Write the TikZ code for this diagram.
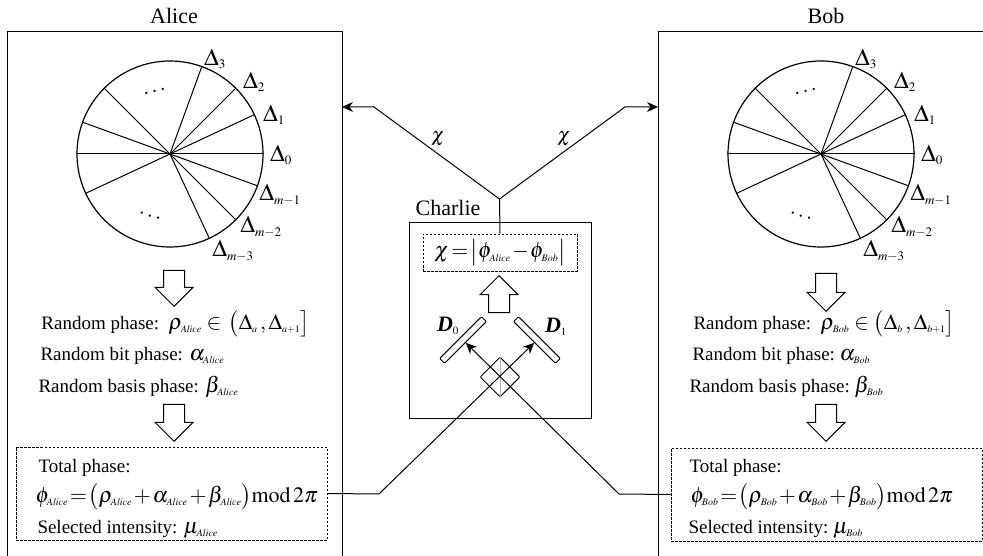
\documentclass[tikz,border=0pt]{standalone}
\usepackage{amsmath}
\usepackage{mathptmx}
\usepackage[no-math]{fontspec}
\setmainfont{Liberation Serif}
\usepackage{tikz}
\usetikzlibrary{arrows.meta, shapes.arrows, shapes.geometric}
\DeclareMathSizes{17}{20}{10}{8}
\DeclareMathSizes{19}{22}{10}{8}
\DeclareMathSizes{24}{24}{13}{10}
\DeclareMathSizes{22}{22}{11}{9}
\newcommand{\sub}[1]{_{\mathit{#1}}}

\begin{document}
\begin{tikzpicture}[
      x=1pt, y=-1pt,
      line width=1pt,
      myarrow/.style={-{Stealth[length=11pt,width=10pt]}},
      mytitle/.style={font=\fontsize{22}{24}\selectfont, inner sep=0pt},
      mytext/.style={font=\fontsize{19}{22}\selectfont, anchor=base west, inner sep=0pt},
      mydelta/.style={font=\fontsize{24}{26}\selectfont, inner sep=0pt},
      mychi/.style={font=\fontsize{17}{20}\selectfont, inner sep=0pt},
      mydots/.style={font=\fontsize{19}{22}\selectfont, inner sep=0pt},
      mywheel/.style={circle, draw=black, line width=1.2pt, inner sep=0pt, minimum size=186pt},
      mydash/.style={draw=black, line width=0.7pt, dash pattern=on 2.5pt off 1.5pt, inner sep=0pt},
      myblock/.style={single arrow, draw=black, inner xsep=0pt, inner ysep=10pt, anchor=tip,
         single arrow head extend=8.5pt, single arrow head indent=0pt},
      mydetector/.style={rectangle, draw=black, rounded corners=1pt, inner sep=0pt,
         minimum width=59pt, minimum height=7pt}
      ]
      \useasboundingbox (0,0) rectangle (983,556);

      % the two open frames
      \draw (7,556) -- (7,32) -- (342,32) -- (342,556);
      \draw (983,32) -- (658,32) -- (658,556);
      \node[mytitle] at (174,16) (alicetitle) {Alice};
      \node[mytitle] at (826,16) (bobtitle) {Bob};

      % phase wheels
      \foreach \who/\dx in {alice/0, bob/651}{
        \node[mywheel] at ({170+\dx},154) (\who wheel) {};
        \foreach \ang in {70,45,25,0,-20,-45,-65,135,160,180,205}
          \draw (\who wheel.center) -- (\who wheel.\ang);
        \foreach \x/\y/\txt in {% x/y/index
          215/59/3, 254/82/2, 274/115/1, 281/155/0,
          280/195/m-1, 261/227/m-2, 233/251/m-3}
          \node[mydelta] at ({\x+\dx},\y) {$\Delta_{\txt}$};
        \node[mydots, rotate=15] at ({156+\dx},92) {$\cdots$};
        \node[mydots, rotate=-17] at ({151+\dx},217) {$\cdots$};
      }

      % block arrows
      \foreach \n/\x/\y/\len/\r in {% name/tip x/tip y/length/rotation
        alicedown/174/307/36/-90,
        alicenext/174/442/37/-90,
        bobdown/826/312/38/-90,
        bobnext/826/442/37/-90,
        charlieup/499/275/37/90
        }
        \node[myblock, minimum height=\len pt, rotate=\r] at (\x,\y) (\n) {};

      % Alice
      \node[mytext] at (41,329) (alicerho) {Random phase:\ \ $\rho\sub{Alice}\in\,\bigl(\Delta_a\,,\Delta_{a+1}\bigr]$};
      \node[mytext] at (40,360) (alicealpha) {Random bit phase: $\alpha\sub{Alice}$};
      \node[mytext] at (38,392) (alicebeta) {Random basis phase: $\beta\sub{Alice}$};
      \node[mydash, minimum width=311pt, minimum height=93pt] at (171.5,493.5) (alicetotal) {};
      \node[mytext] at (38,472) (alicelabel) {Total phase:};
      \node[mytext] at (35,502) (aliceformula) {$\phi\sub{Alice}\mskip1.5mu{=}\mskip1.5mu\bigl(\rho\sub{Alice}\mskip1.5mu{+}\mskip1.5mu\alpha\sub{Alice}\mskip1.5mu{+}\mskip1.5mu\beta\sub{Alice}\bigr)\mathrm{mod}\,2\pi$};
      \node[mytext] at (37,533) (alicemu) {Selected intensity: $\mu\sub{Alice}$};

      % Bob
      \node[mytext] at (693,329) (bobrho) {Random phase:\ \ $\rho\sub{Bob}\in\bigl(\Delta_b\,,\Delta_{b+1}\bigr]$};
      \node[mytext] at (692,360) (bobalpha) {Random bit phase:\ $\alpha\sub{Bob}$};
      \node[mytext] at (689,392) (bobbeta) {Random basis phase:\ $\beta\sub{Bob}$};
      \node[mydash, minimum width=311pt, minimum height=93pt] at (826.5,494.5) (bobtotal) {};
      \node[mytext] at (689,472) (boblabel) {Total phase:};
      \node[mytext] at (690,502) (bobformula) {$\phi\sub{Bob}\mskip1.2mu{=}\mskip1.2mu\bigl(\rho\sub{Bob}\mskip1.2mu{+}\mskip1.2mu\alpha\sub{Bob}\mskip1.2mu{+}\mskip1.2mu\beta\sub{Bob}\bigr)\mathrm{mod}\,2\pi$};
      \node[mytext] at (688,533) (bobmu) {Selected intensity:\ $\mu\sub{Bob}$};

      % Charlie
      \node[draw=black, inner sep=0pt, minimum width=182pt, minimum height=195pt] at (500,320.5) (charlie) {};
      \node[mytitle] at (448,208) (charlietitle) {Charlie};
      \node[mydash, minimum width=154pt, minimum height=37pt, font=\fontsize{19}{22}\selectfont] at (500,252.5) (chidiff)
         {$\chi\mskip2mu{=}\mskip2mu\bigl|\phi\sub{Alice}\mskip1mu{-}\mskip1mu\phi\sub{Bob}\bigr|$};
      \node[mydetector, rotate=45] at (463,340) (dzero) {};
      \node[mydetector, rotate=-45] at (537,340) (done) {};
      \node[mytitle] at (448,326) (dzerolabel) {\textbf{\textit{D}}$_0$};
      \node[mytitle] at (556,327) (donelabel) {\textbf{\textit{D}}$_1$};
      \node[diamond, aspect=1, draw=black, rounded corners=1pt, inner sep=0pt, minimum size=40pt] at (500,377) (splitter) {};
      \draw[gray!60] (splitter.north) -- (splitter.south);

      % connectors
      \coordinate (aliceturn) at (379,494);
      \coordinate (bobturn) at (619,494);
      \coordinate (fork) at (499.5,199);
      \coordinate (forkleft) at (374,107);
      \coordinate (forkright) at (625,107);
      \coordinate (aliceport) at (342,107);
      \coordinate (bobport) at (658,107);
      \draw[myarrow] (alicetotal.east) -- (aliceturn) -- (done.south);
      \draw[myarrow] (bobtotal.west) -- (bobturn) -- (dzero.south);
      \draw (chidiff.north) -- (fork);
      \draw[myarrow] (fork) -- (forkleft) -- (aliceport);
      \draw[myarrow] (fork) -- (forkright) -- (bobport);
      \node[mychi] at (438,139) (chileft) {$\chi$};
      \node[mychi] at (564,139) (chiright) {$\chi$};
\end{tikzpicture}
\end{document}
